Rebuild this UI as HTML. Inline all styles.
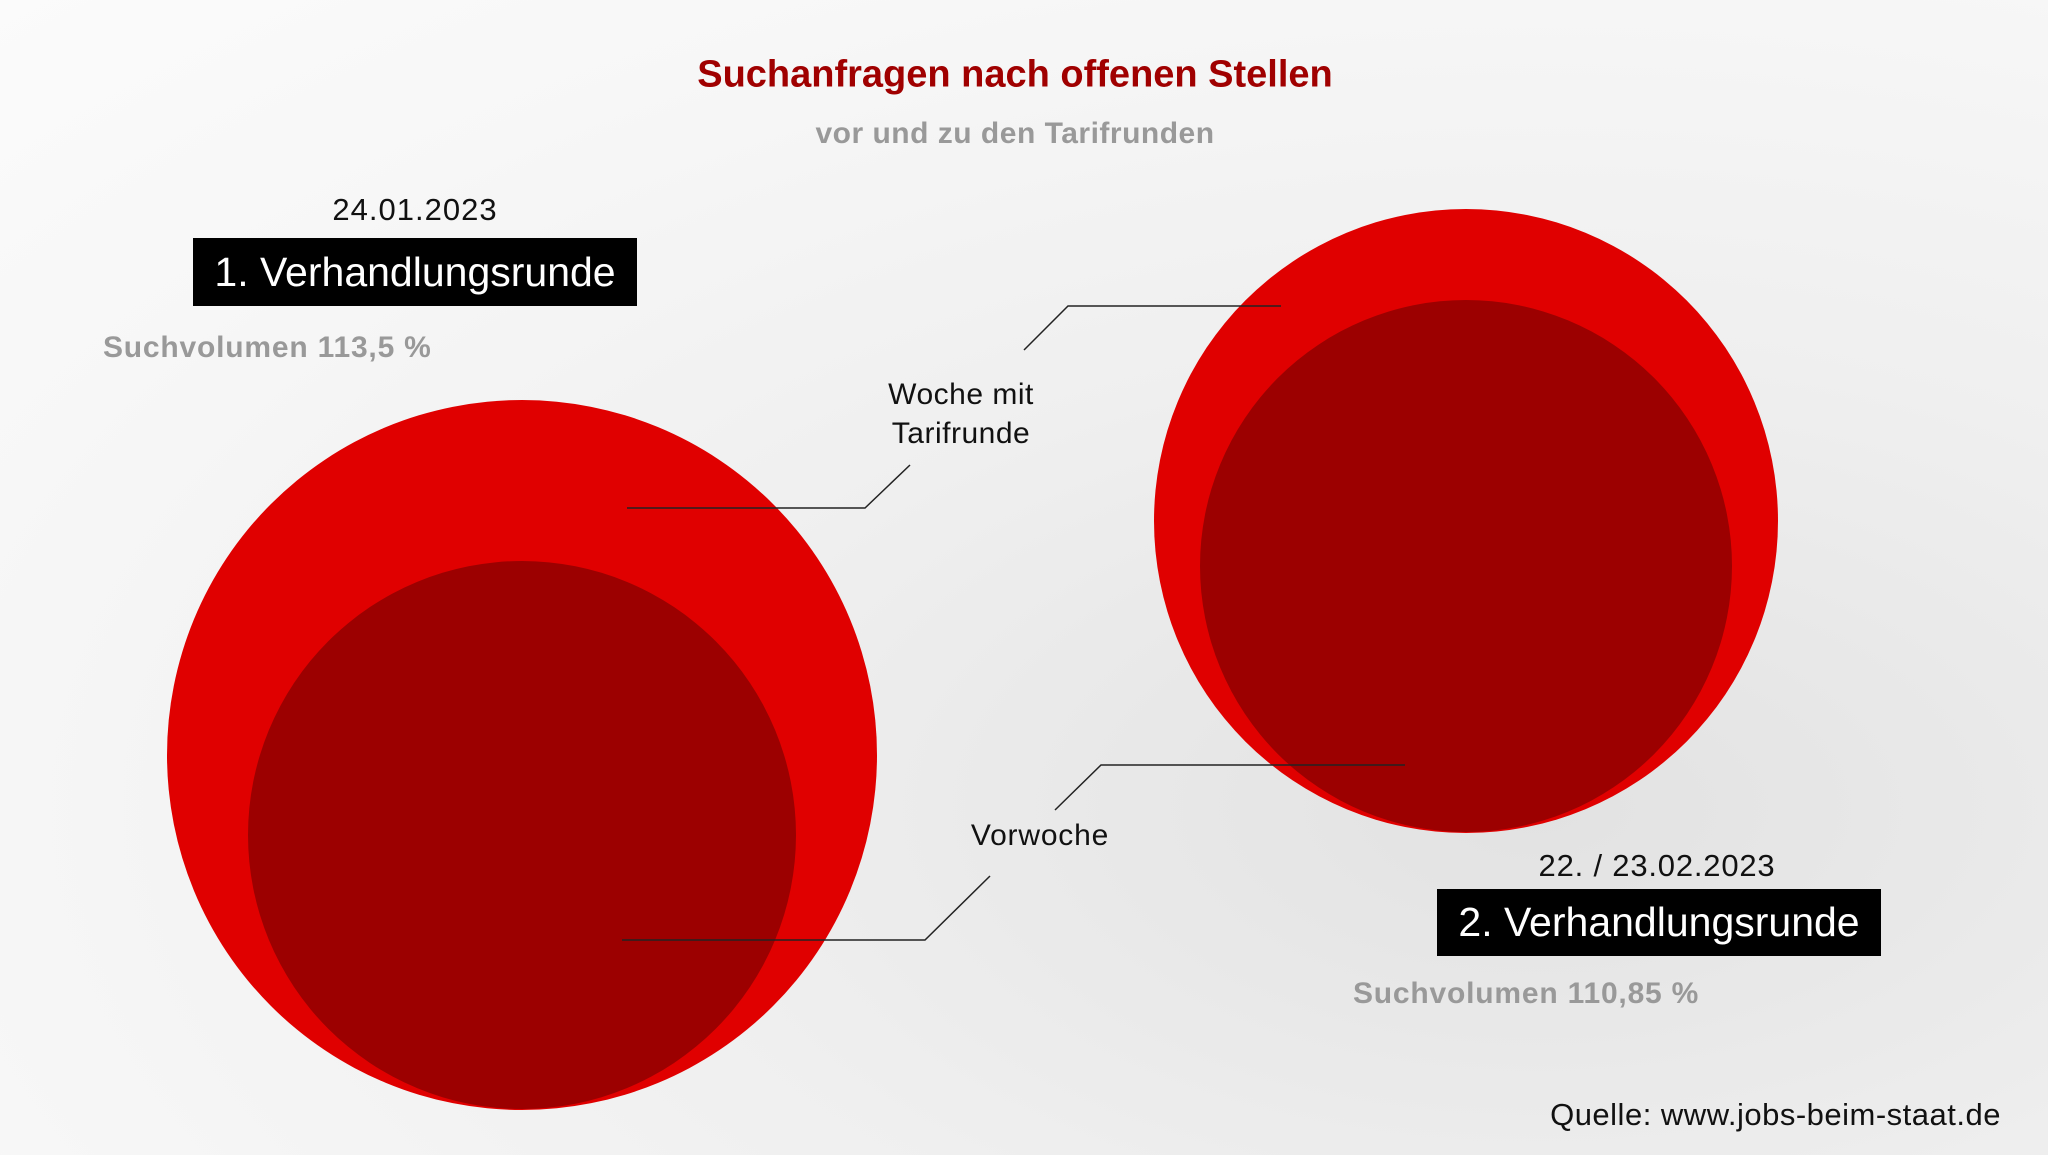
<!DOCTYPE html>
<html><head><meta charset="utf-8"><style>
html,body{margin:0;padding:0}
body{width:2048px;height:1155px;overflow:hidden;position:relative;font-family:"Liberation Sans",sans-serif;
background:radial-gradient(ellipse at 75% 70%,#e2e2e2 0%,#efefef 40%,#f7f7f7 75%,#fbfbfb 100%);}
.t{position:absolute;white-space:nowrap;transform:translate(-50%,-50%)}
.box{position:absolute;background:#000;color:#fff;font-size:41px;display:flex;align-items:center;justify-content:center}
</style></head><body>
<svg width="2048" height="1155" style="position:absolute;left:0;top:0">
<circle cx="522" cy="755" r="355" fill="#e00000"/>
<circle cx="522" cy="835" r="274" fill="#9c0000"/>
<circle cx="1466" cy="521" r="312" fill="#e00000"/>
<circle cx="1466" cy="566" r="266" fill="#9c0000"/>
<g fill="none" stroke="#222" stroke-width="1.5">
<polyline points="627,508 865,508 910,465"/>
<polyline points="622,940 925,940 990,876"/>
<polyline points="1024,350 1068,306 1281,306"/>
<polyline points="1055,810 1101,765 1405,765"/>
</g>
</svg>
<div class="t" style="left:1015px;top:75px;font-size:38px;font-weight:bold;color:#a00000">Suchanfragen nach offenen Stellen</div>
<div class="t" style="left:1015px;top:134px;font-size:30px;font-weight:bold;color:#999;letter-spacing:0.5px">vor und zu den Tarifrunden</div>
<div class="t" style="left:415px;top:210px;font-size:31px;color:#111;letter-spacing:1px">24.01.2023</div>
<div class="box" style="left:193px;top:238px;width:444px;height:68px">1. Verhandlungsrunde</div>
<div class="t" style="left:103px;top:348px;font-size:30px;font-weight:bold;color:#999;letter-spacing:0.8px;transform:translate(0,-50%)">Suchvolumen 113,5 %</div>
<div class="t" style="left:961px;top:414px;font-size:30px;color:#111;text-align:center;line-height:39px;letter-spacing:0.5px">Woche mit<br>Tarifrunde</div>
<div class="t" style="left:1040px;top:836px;font-size:30px;color:#111;letter-spacing:0.8px">Vorwoche</div>
<div class="t" style="left:1657px;top:866px;font-size:31px;color:#111;letter-spacing:0.8px">22. / 23.02.2023</div>
<div class="box" style="left:1437px;top:889px;width:444px;height:67px">2. Verhandlungsrunde</div>
<div class="t" style="left:1353px;top:994px;font-size:30px;font-weight:bold;color:#999;letter-spacing:0.8px;transform:translate(0,-50%)">Suchvolumen 110,85 %</div>
<div class="t" style="right:47px;top:1115px;font-size:31px;color:#111;letter-spacing:0.5px;transform:translate(0,-50%)">Quelle: www.jobs-beim-staat.de</div>
</body></html>
